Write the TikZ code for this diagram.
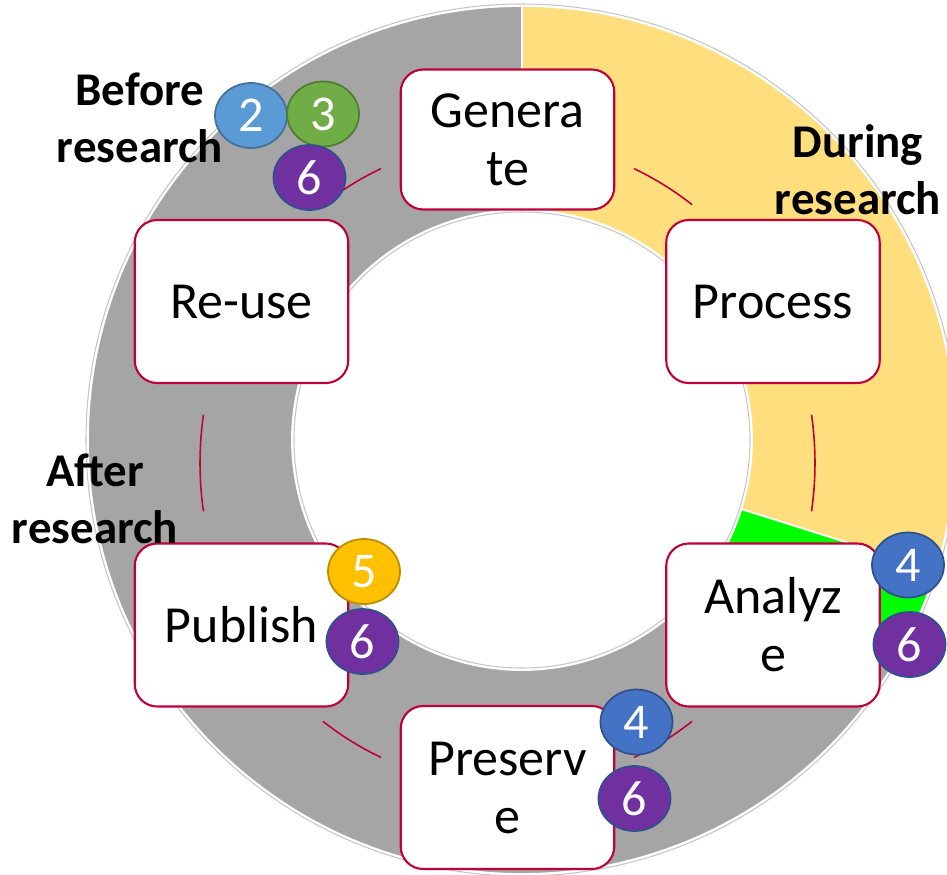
\documentclass[tikz,border=0pt]{standalone}
\usepackage{fontspec}
\setmainfont{Carlito}
\usetikzlibrary{shapes.geometric}
\definecolor{cyclered}{RGB}{192, 0, 58}
\definecolor{ringgray}{RGB}{165, 165, 165}
\definecolor{ringyellow}{RGB}{255, 222, 125}
\definecolor{ringgreen}{RGB}{0, 255, 0}
\definecolor{badgesky}{RGB}{91, 155, 213}
\definecolor{badgeskyline}{RGB}{65, 113, 156}
\definecolor{badgegreen}{RGB}{112, 173, 71}
\definecolor{badgegreenline}{RGB}{80, 126, 50}
\definecolor{badgepurple}{RGB}{112, 48, 160}
\definecolor{badgeblue}{RGB}{68, 114, 196}
\definecolor{badgeblueline}{RGB}{47, 82, 143}
\definecolor{badgegold}{RGB}{255, 192, 0}
\definecolor{badgegoldline}{RGB}{188, 140, 0}

\begin{document}
\begin{tikzpicture}[
        stage/.style={rectangle, draw=cyclered, line width=1.2pt, fill=white, rounded corners=0.45cm, minimum width=4.27cm, minimum height=3.26cm, align=center, font=\fontsize{29.6}{33}\selectfont},
        badge/.style 2 args={ellipse, fill=#1, draw=#2, line width=1pt, inner sep=0pt, minimum width=1.44cm, minimum height=1.30cm, text=white, font=\fontsize{28.5}{30}\selectfont},
        phase/.style={align=center, font=\fontsize{26.7}{32.4}\selectfont\bfseries},
        sector/.style={draw=white, line width=1pt},
        link/.style={cyclered, line width=0.9pt}
      ]
        \useasboundingbox (-10.44, -8.68) rectangle (8.50, 8.80);
        \coordinate (hub) at (0, 0);
        \coordinate (cyc) at (-0.29, -0.46);

        \filldraw[sector, fill=ringgray] (hub) ++(90:8.68) arc[start angle=90, end angle=331, radius=8.68] -- ++(151:4.08) arc[start angle=331, end angle=90, radius=4.6] -- cycle;
        \filldraw[sector, fill=ringyellow] (hub) ++(90:8.68) arc[start angle=90, end angle=-17.5, radius=8.68] -- ++(162.5:4.08) arc[start angle=-17.5, end angle=90, radius=4.6] -- cycle;
        \filldraw[sector, fill=ringgreen] (hub) ++(-17.5:8.68) arc[start angle=-17.5, end angle=-29, radius=8.68] -- ++(151:4.08) arc[start angle=-29, end angle=-17.5, radius=4.6] -- cycle;
        \draw[gray!45, line width=0.6pt] (hub) circle[radius=8.72];
        \draw[gray!45, line width=0.6pt] (hub) circle[radius=4.56];

        \draw[link] (cyc) ++(65.7:6.15 and 6.46) arc[start angle=65.7, end angle=53.1, x radius=6.15, y radius=6.46];
        \draw[link] (cyc) ++(8.6:6.15 and 6.46) arc[start angle=8.6, end angle=-8.6, x radius=6.15, y radius=6.46];
        \draw[link] (cyc) ++(-53.1:6.15 and 6.46) arc[start angle=-53.1, end angle=-65.7, x radius=6.15, y radius=6.46];
        \draw[link] (cyc) ++(-114.3:6.15 and 6.46) arc[start angle=-114.3, end angle=-126.9, x radius=6.15, y radius=6.46];
        \draw[link] (cyc) ++(188.6:6.15 and 6.46) arc[start angle=188.6, end angle=171.4, x radius=6.15, y radius=6.46];
        \draw[link] (cyc) ++(126.9:6.15 and 6.46) arc[start angle=126.9, end angle=114.3, x radius=6.15, y radius=6.46];

        \node[stage, minimum height=2.80cm] at (-0.29, 6.01) (generate) {Genera\\te};
        \node[stage] at (5.02, 2.77)   (process)  {Process};
        \node[stage] at (5.02, -3.70)  (analyze)  {Analyz\\e};
        \node[stage] at (-0.29, -6.95) (preserve) {Preserv\\e};
        \node[stage] at (-5.61, -3.70) (publish)  {Publish};
        \node[stage] at (-5.61, 2.77)  (reuse)    {Re-use};

        \node[badge={badgesky}{badgeskyline}]       at (-5.42, 6.49)  (gen2) {2};
        \node[badge={badgegreen}{badgegreenline}]   at (-3.98, 6.52)  (gen3) {3};
        \node[badge={badgepurple}{badgeblueline}]   at (-4.25, 5.25)  (gen6) {6};
        \node[badge={badgeblue}{badgeblueline}]     at (7.72, -2.50)  (ana4) {4};
        \node[badge={badgepurple}{badgeblueline}]   at (7.75, -4.09)  (ana6) {6};
        \node[badge={badgeblue}{badgeblueline}]     at (2.29, -5.64)  (pre4) {4};
        \node[badge={badgepurple}{badgeblueline}]   at (2.25, -7.17)  (pre6) {6};
        \node[badge={badgegold}{badgegoldline}]     at (-3.16, -2.63) (pub5) {5};
        \node[badge={badgepurple}{badgeblueline}]   at (-3.19, -4.03) (pub6) {6};

        \node[phase] at (-7.64, 6.44) (before) {Before\\research};
        \node[phase] at (6.72, 5.40)  (during) {During\\research};
        \node[phase] at (-8.54, -1.18) (after) {After\\research};
      \end{tikzpicture}
\end{document}
